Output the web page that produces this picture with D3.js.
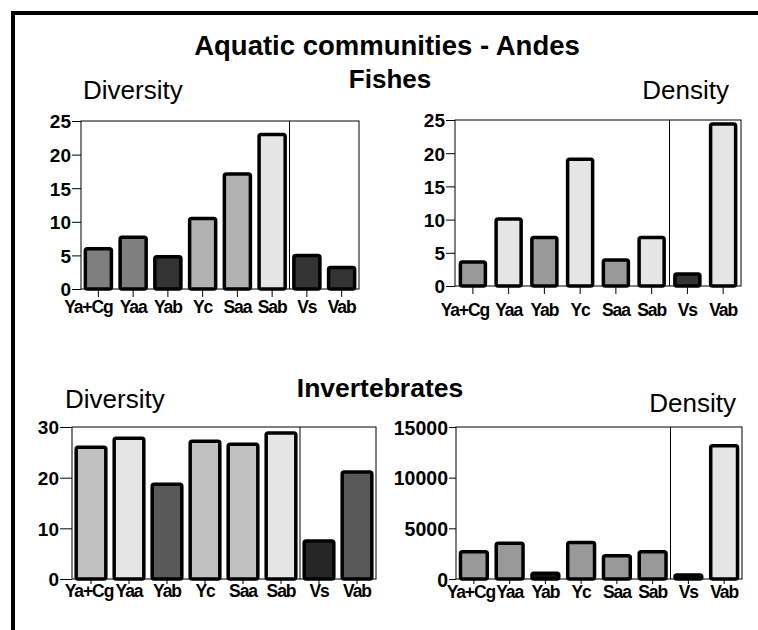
<!DOCTYPE html>
<html>
<head>
<meta charset="utf-8" />
<title>Aquatic communities - Andes</title>
<script src="https://cdn.jsdelivr.net/npm/d3@7"></script>
<style>
  body { margin: 0; background: #fff; }
  svg { display: block; font-family: "Liberation Sans", Arial, Helvetica, sans-serif; }
  .ylab text { font-weight: bold; font-size: 19px; }
  .xlab text { font-weight: bold; font-size: 17.5px; letter-spacing: -1.1px; }
  .sub { font-size: 26px; }
  .head { font-weight: bold; }
</style>
</head>
<body>
<script>
// sites (same order in every panel)
var sites = ["Ya+Cg", "Yaa", "Yab", "Yc", "Saa", "Sab", "Vs", "Vab"];

// values
var fishDiversity = [6, 7.7, 4.8, 10.5, 17.1, 23, 5, 3.2];
var fishDensity   = [3.6, 10.1, 7.3, 19.1, 3.9, 7.3, 1.8, 24.4];
var invDiversity  = [26, 27.8, 18.7, 27.2, 26.6, 28.8, 7.5, 21.1];
var invDensity    = [2700, 3530, 560, 3590, 2300, 2700, 400, 13150];

// tick labels
var fishTicks      = [0, 5, 10, 15, 20, 25];
var invDivTicks    = [0, 10, 20, 30];
var invDensTicks   = [0, 5000, 10000, 15000];

// bar greys
var fishDivFill  = ["#7f7f7f", "#7f7f7f", "#333333", "#b2b2b2", "#b2b2b2", "#e5e5e5", "#333333", "#333333"];
var fishDensFill = ["#999999", "#e5e5e5", "#999999", "#e5e5e5", "#999999", "#e5e5e5", "#333333", "#e5e5e5"];
var invDivFill   = ["#c0c0c0", "#e5e5e5", "#595959", "#c0c0c0", "#c0c0c0", "#e5e5e5", "#262626", "#595959"];
var invDensFill  = ["#999999", "#999999", "#111111", "#999999", "#999999", "#999999", "#111111", "#e5e5e5"];

var svg = d3.select("body").append("svg")
  .attr("width", 758)
  .attr("height", 630);

// outer frame (top and left only)
svg.append("path")
  .attr("d", "M13,630V13H758")
  .attr("fill", "none")
  .attr("stroke", "#000")
  .attr("stroke-width", 4);

svg.append("text").attr("class", "head")
  .attr("x", 387).attr("y", 55)
  .attr("text-anchor", "middle")
  .style("font-size", "27.5px")
  .text("Aquatic communities - Andes");

svg.append("text").attr("class", "head")
  .attr("x", 390).attr("y", 88)
  .attr("text-anchor", "middle")
  .style("font-size", "26px")
  .text("Fishes");

svg.append("text").attr("class", "head")
  .attr("x", 380).attr("y", 397)
  .attr("text-anchor", "middle")
  .style("font-size", "26.5px")
  .text("Invertebrates");

function panel(o) {
  var x = d3.scaleBand().domain(sites).range([o.left, o.right]).paddingInner(o.pad).paddingOuter(o.pad / 2);
  var y = d3.scaleLinear().domain([0, o.max]).range([o.bottom, o.top]);
  var g = svg.append("g");

  // title of panel
  g.append("text").attr("class", "sub")
    .attr("x", o.titleX).attr("y", o.titleY)
    .attr("text-anchor", o.anchor)
    .text(o.title);

  // frame
  g.append("rect")
    .attr("x", o.left).attr("y", o.top)
    .attr("width", o.right - o.left).attr("height", o.bottom - o.top)
    .attr("fill", "none").attr("stroke", "#000").attr("stroke-width", 1);

  // separator before the V sites
  var sx = x("Vs") - x.step() * o.pad / 2;
  g.append("line")
    .attr("x1", sx).attr("x2", sx)
    .attr("y1", o.top).attr("y2", o.bottom)
    .attr("stroke", "#000");

  // y axis
  var ya = g.append("g").attr("class", "ylab")
    .attr("transform", "translate(" + o.left + ",0)")
    .call(d3.axisLeft(y).tickValues(o.ticks).tickSize(o.tick).tickPadding(1).tickFormat(d3.format("d")));
  ya.select(".domain").remove();
  ya.selectAll("text").attr("fill", "#000").attr("dy", "0.36em");
  if (o.yFont) ya.selectAll("text").style("font-size", o.yFont);

  // bars
  g.selectAll(".bar")
    .data(o.values)
    .enter().append("rect")
    .attr("x", function (d, i) { return x(sites[i]); })
    .attr("y", function (d) { return y(d); })
    .attr("width", x.bandwidth())
    .attr("height", function (d) { return o.bottom - y(d); })
    .attr("rx", 2)
    .attr("fill", function (d, i) { return o.fill[i]; })
    .attr("stroke", "#000")
    .attr("stroke-width", 3.5);

  // x axis
  var xa = g.append("g").attr("class", "xlab")
    .attr("transform", "translate(0," + o.bottom + ")")
    .call(d3.axisBottom(x).tickSize(o.xtick).tickSizeOuter(0).tickPadding(o.xpad));
  xa.select(".domain").remove();
  xa.selectAll("text").attr("fill", "#000").attr("dy", "0.71em")
    .attr("dx", function (d, i) { return i === 0 ? -o.shift : 0; }); // first label pushed left like the original
}

panel({ values: fishDiversity, fill: fishDivFill, ticks: fishTicks, max: 25,
  left: 81, right: 359, top: 121, bottom: 289, pad: 0.25, tick: 9, xtick: 8, xpad: 4, shift: 10,
  title: "Diversity", titleX: 83, titleY: 99, anchor: "start" });

panel({ values: fishDensity, fill: fishDensFill, ticks: fishTicks, max: 25,
  left: 455, right: 741, top: 120, bottom: 286, pad: 0.3, tick: 9, xtick: 8, xpad: 10, shift: 8,
  title: "Density", titleX: 729, titleY: 99, anchor: "end" });

panel({ values: invDiversity, fill: invDivFill, ticks: invDivTicks, max: 30,
  left: 72, right: 376, top: 427, bottom: 579, pad: 0.22, tick: 12, xtick: 5, xpad: 1, shift: 2,
  title: "Diversity", titleX: 65, titleY: 408, anchor: "start" });

panel({ values: invDensity, fill: invDensFill, ticks: invDensTicks, max: 15000,
  left: 456, right: 742, top: 427, bottom: 579, pad: 0.25, tick: 7, xtick: 5, xpad: 2, yFont: "19.5px", shift: 3,
  title: "Density", titleX: 736, titleY: 412, anchor: "end" });
</script>
</body>
</html>
